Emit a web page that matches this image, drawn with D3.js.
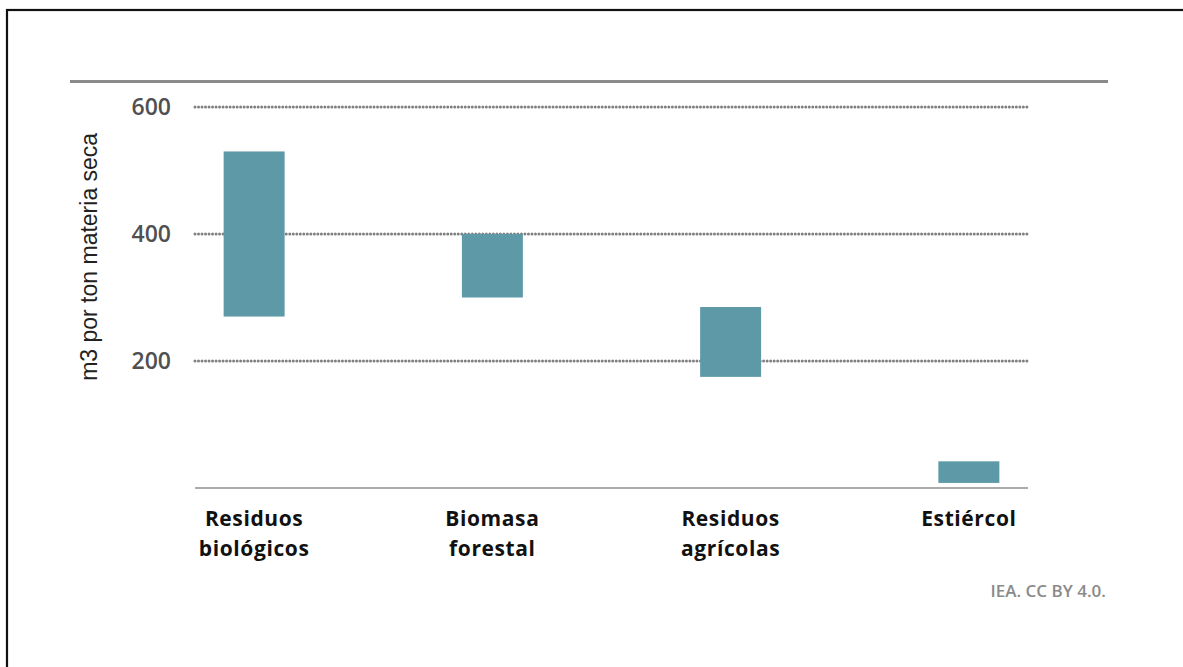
<!DOCTYPE html>
<html>
<head>
<meta charset="utf-8">
<script src="https://cdn.jsdelivr.net/npm/d3@7"></script>
<style>
  html, body { margin: 0; padding: 0; background: #fff; }
  svg { display: block; }
</style>
</head>
<body>
<svg id="chart" width="1183" height="667"></svg>
<script>
// Biogas yield ranges by feedstock (m3 per tonne of dry matter)
const categories = ["Residuos biológicos", "Biomasa forestal", "Residuos agrícolas", "Estiércol"];
const categoryLines = [["Residuos", "biológicos"], ["Biomasa", "forestal"], ["Residuos", "agrícolas"], ["Estiércol"]];
const lowValues = [270, 300, 175, 8];
const highValues = [530, 400, 285, 42];
const tickValues = [200, 400, 600];
const yTitle = "m3 por ton materia seca";
const sourceText = "IEA. CC BY 4.0.";

const svg = d3.select("#chart");

// frame
svg.append("rect")
  .attr("x", 7).attr("y", 10)
  .attr("width", 1200).attr("height", 700)
  .attr("fill", "none").attr("stroke", "#111").attr("stroke-width", 2.2);

const y = d3.scaleLinear().domain([0, 640]).range([488, 81.6]);
const x = d3.scaleBand().domain(categories).range([135, 1088])
  .paddingInner(0.744).paddingOuter(0.372);

const gridLeft = 195, gridRight = 1027;

// top rule
svg.append("line")
  .attr("x1", 70).attr("x2", 1108)
  .attr("y1", y(640)).attr("y2", y(640))
  .attr("stroke", "#8a8a8a").attr("stroke-width", 3);

// dotted gridlines
svg.append("g").selectAll("line").data(tickValues).join("line")
  .attr("x1", gridLeft).attr("x2", gridRight)
  .attr("y1", d => y(d)).attr("y2", d => y(d))
  .attr("stroke", "#808080").attr("stroke-width", 3)
  .attr("stroke-linecap", "round")
  .attr("stroke-dasharray", "0.01 3.5");

// tick labels
svg.append("g").selectAll("text").data(tickValues).join("text")
  .attr("x", 171).attr("y", d => y(d))
  .attr("dy", "0.36em")
  .attr("text-anchor", "end")
  .attr("font-family", "'Open Sans', sans-serif")
  .attr("font-weight", 600)
  .attr("font-size", 23)
  .attr("fill", "#505050")
  .text(d => d);

// y-axis title
svg.append("text")
  .attr("transform", `translate(97, ${y(364)}) rotate(-90)`)
  .attr("text-anchor", "middle")
  .attr("font-family", "'Liberation Sans', Arial, sans-serif")
  .attr("font-size", 23)
  .attr("fill", "#222")
  .text(yTitle);

// range bars
svg.append("g").selectAll("rect").data(categories).join("rect")
  .attr("x", d => x(d))
  .attr("width", x.bandwidth())
  .attr("y", (d, i) => y(highValues[i]))
  .attr("height", (d, i) => y(lowValues[i]) - y(highValues[i]))
  .attr("fill", "#5e99a7");

// baseline
svg.append("line")
  .attr("x1", gridLeft).attr("x2", gridRight + 1)
  .attr("y1", y(0)).attr("y2", y(0))
  .attr("stroke", "#ababab").attr("stroke-width", 2);

// category labels
const labels = svg.append("g").selectAll("text").data(categories).join("text")
  .attr("x", d => x(d) + x.bandwidth() / 2)
  .attr("y", 526)
  .attr("text-anchor", "middle")
  .attr("font-family", "'Open Sans', sans-serif")
  .attr("font-weight", 700)
  .attr("font-size", 21)
  .attr("letter-spacing", 0.6)
  .attr("fill", "#111");
labels.selectAll("tspan").data((d, i) => categoryLines[i]).join("tspan")
  .attr("x", function () { return d3.select(this.parentNode).attr("x"); })
  .attr("dy", (d, i) => i === 0 ? 0 : 30)
  .text(d => d);

// source note
svg.append("text")
  .attr("x", 1106).attr("y", 597)
  .attr("text-anchor", "end")
  .attr("font-family", "'Open Sans', sans-serif")
  .attr("font-weight", 600)
  .attr("font-size", 17)
  .attr("fill", "#8a8a8a")
  .text(sourceText);
</script>
</body>
</html>
